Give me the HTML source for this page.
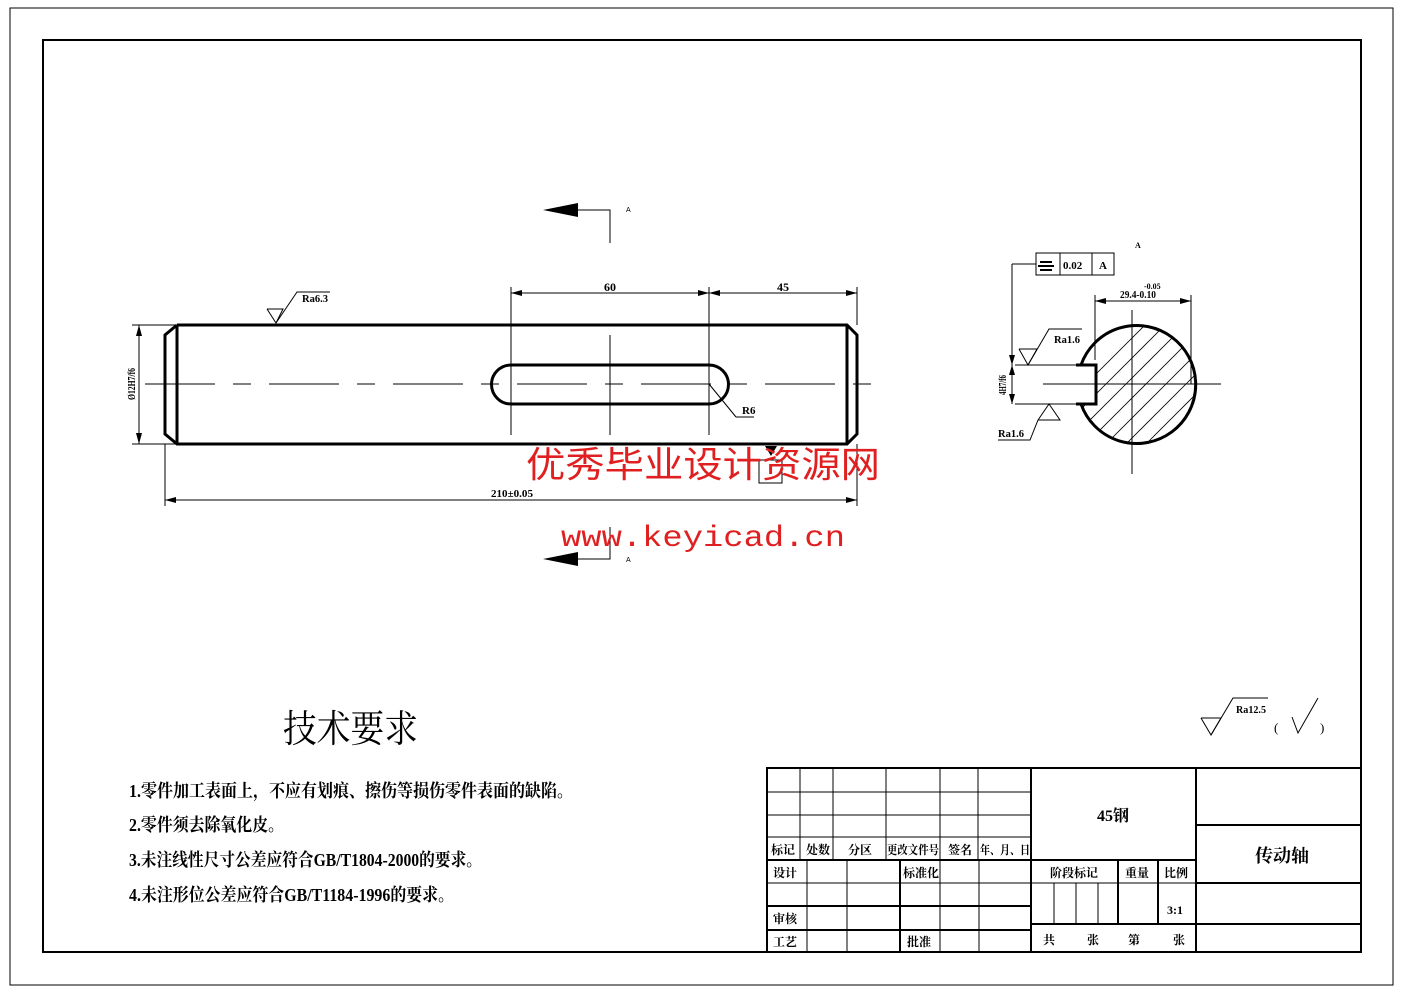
<!DOCTYPE html>
<html><head><meta charset="utf-8"><style>html,body{margin:0;padding:0;background:#fff}svg{display:block}</style></head>
<body>
<svg width="1403" height="992" viewBox="0 0 1403 992" xmlns="http://www.w3.org/2000/svg" font-family="'Liberation Sans','Noto Sans CJK SC',sans-serif">
<rect width="1403" height="992" fill="#fff"/>
<rect x="10" y="8" width="1383" height="977" fill="none" stroke="#000" stroke-width="1"/>
<rect x="43" y="40" width="1318" height="912" fill="none" stroke="#000" stroke-width="2"/>

<polygon points="543,210 578,203 578,217" fill="#000"/>
<polyline points="578,210 610,210 610,243" fill="none" stroke="#000"/>
<text x="626" y="212" font-size="7">A</text>
<polygon points="543,559 578,552 578,566" fill="#000"/>
<polyline points="578,559 610,559 610,527" fill="none" stroke="#000"/>
<text x="626" y="562" font-size="7">A</text>

<g stroke="#000" fill="none">
<polyline points="177,325 847,325 857,335 857,434 847,444 177,444 165,434 165,335 177,325" stroke-width="3"/>
<line x1="177" y1="325" x2="177" y2="444" stroke-width="3"/>
<line x1="847" y1="325" x2="847" y2="444" stroke-width="3"/>
<path d="M511,365 L709,365 A19.5,19.5 0 0 1 709,404 L511,404 A19.5,19.5 0 0 1 511,365 Z" stroke-width="3"/>
<line x1="145" y1="384" x2="877" y2="384" stroke-width="1" stroke-dasharray="70,18,18,18"/>
<line x1="132" y1="325" x2="175" y2="325"/>
<line x1="132" y1="444" x2="175" y2="444"/>
<line x1="139" y1="325" x2="139" y2="444"/>
<line x1="165" y1="444" x2="165" y2="506"/>
<line x1="857" y1="444" x2="857" y2="506"/>
<line x1="165" y1="500" x2="857" y2="500"/>
<line x1="511" y1="287" x2="511" y2="435"/>
<line x1="709" y1="287" x2="709" y2="435"/>
<line x1="610" y1="335" x2="610" y2="435"/>
<line x1="857" y1="287" x2="857" y2="325"/>
<line x1="511" y1="293" x2="709" y2="293"/>
<line x1="709" y1="293" x2="857" y2="293"/>
<line x1="709" y1="384" x2="736" y2="417"/><line x1="736" y1="417" x2="754" y2="417"/>
<polyline points="267,309 283,309 276,323 267,309"/>
<polyline points="276,323 297,292 330,292"/>
<rect x="759" y="460" width="23" height="23"/>
</g>
<g fill="#000">
<polygon points="139,325 136,336 142,336"/><polygon points="139,444 136,433 142,433"/>
<polygon points="165,500 176,497 176,503"/><polygon points="857,500 846,497 846,503"/>
<polygon points="511,293 522,290 522,296"/><polygon points="709,293 698,290 698,296"/>
<polygon points="709,293 720,290 720,296"/><polygon points="857,293 846,290 846,296"/>
<polygon points="765,446 777,446 771,456"/>
</g>
<g font-weight="bold" font-family="'Liberation Serif','Noto Serif CJK SC',serif">
<text x="302" y="302" font-size="11" textLength="26" lengthAdjust="spacingAndGlyphs">Ra6.3</text>
<text x="604" y="291" font-size="12">60</text>
<text x="777" y="291" font-size="12">45</text>
<text x="742" y="414" font-size="11">R6</text>
<text x="491" y="497" font-size="10" textLength="42" lengthAdjust="spacingAndGlyphs">210±0.05</text>
<text transform="translate(135,400) rotate(-90)" font-size="11" textLength="32" lengthAdjust="spacingAndGlyphs">Ø12H7/f6</text>
</g>

<defs><clipPath id="cc"><path d="M1081,365 A59,59 0 1 1 1081,404 L1096,404 L1096,365 Z"/></clipPath></defs>
<g clip-path="url(#cc)" stroke="#000" stroke-width="0.8">
<line x1="1060" y1="470" x2="1200" y2="330"/><line x1="1060" y1="450" x2="1200" y2="310"/>
<line x1="1060" y1="430" x2="1200" y2="290"/><line x1="1060" y1="410" x2="1200" y2="270"/>
<line x1="1060" y1="490" x2="1220" y2="330"/><line x1="1060" y1="510" x2="1240" y2="330"/>
<line x1="1080" y1="510" x2="1260" y2="330"/><line x1="1100" y1="510" x2="1280" y2="330"/>
</g>
<g stroke="#000" fill="none">
<path d="M1081,365 A59,59 0 1 1 1081,404" stroke-width="3"/>
<polyline points="1076,365 1096,365 1096,404 1076,404" stroke-width="3"/>
<line x1="1015" y1="365" x2="1081" y2="365"/><line x1="1015" y1="404" x2="1081" y2="404"/>
<line x1="1043" y1="384" x2="1221" y2="384"/>
<line x1="1132" y1="310" x2="1132" y2="474"/>
<line x1="1095" y1="295" x2="1095" y2="360"/><line x1="1191" y1="295" x2="1191" y2="384"/>
<line x1="1095" y1="301" x2="1191" y2="301"/>
<line x1="1012" y1="264" x2="1012" y2="404"/>
<line x1="1012" y1="264" x2="1036" y2="264"/>
<rect x="1036" y="253" width="78" height="22"/>
<line x1="1060" y1="253" x2="1060" y2="275"/><line x1="1092" y1="253" x2="1092" y2="275"/>
<polyline points="1019,349 1037,349 1028,365 1019,349"/>
<polyline points="1028,365 1049,329 1082,329"/>
<polyline points="1038,420 1060,420 1049,404 1038,420"/>
<polyline points="1038,420 1030,440 998,440"/>
</g>
<g fill="#000">
<polygon points="1095,301 1106,298 1106,304"/><polygon points="1191,301 1180,298 1180,304"/>
<polygon points="1012,365 1009,355 1015,355"/><polygon points="1012,365 1009,375 1015,375"/>
<polygon points="1012,404 1009,394 1015,394"/>
<rect x="1040" y="261" width="12" height="2"/><rect x="1038" y="265" width="16" height="2"/><rect x="1040" y="269" width="12" height="2"/>
</g>
<g font-weight="bold" font-family="'Liberation Serif','Noto Serif CJK SC',serif">
<text x="1063" y="269" font-size="11">0.02</text>
<text x="1099" y="269" font-size="11">A</text>
<text x="1135" y="248" font-size="8">A</text>
<text x="1120" y="298" font-size="11" textLength="36" lengthAdjust="spacingAndGlyphs">29.4-0.10</text>
<text x="1144" y="289" font-size="8">-0.05</text>
<text x="1054" y="343" font-size="11" textLength="26" lengthAdjust="spacingAndGlyphs">Ra1.6</text>
<text x="998" y="437" font-size="11" textLength="26" lengthAdjust="spacingAndGlyphs">Ra1.6</text>
<text transform="translate(1006,395) rotate(-90)" font-size="10" textLength="20" lengthAdjust="spacingAndGlyphs">4H7/f6</text>
</g>

<text x="526" y="477" font-size="36" fill="#e02020" font-family="'Noto Sans CJK SC',sans-serif" textLength="354" lengthAdjust="spacingAndGlyphs">优秀毕业设计资源网</text>
<text x="561" y="546" font-size="30" fill="#e02020" font-family="'Liberation Mono',monospace" textLength="284" lengthAdjust="spacingAndGlyphs">www.keyicad.cn</text>

<g stroke="#000" fill="none">
<polyline points="1201,718 1221,718 1211,735 1201,718"/>
<polyline points="1211,735 1233,698 1268,698"/>
<polyline points="1292,717 1298,733 1318,698"/>
</g>
<text x="1236" y="713" font-size="10" font-weight="bold" font-family="'Liberation Serif',serif" textLength="30" lengthAdjust="spacingAndGlyphs">Ra12.5</text>
<text x="1274" y="732" font-size="13" font-family="'Liberation Serif',serif">(</text>
<text x="1320" y="732" font-size="13" font-family="'Liberation Serif',serif">)</text>

<g font-family="'Liberation Serif','Noto Serif CJK SC',serif">
<text x="283" y="742" font-size="38" textLength="135" lengthAdjust="spacingAndGlyphs">技术要求</text>
<g font-size="18" font-weight="bold">
<text x="129" y="797" textLength="444" lengthAdjust="spacingAndGlyphs">1.零件加工表面上，不应有划痕、擦伤等损伤零件表面的缺陷。</text>
<text x="129" y="831" textLength="155" lengthAdjust="spacingAndGlyphs">2.零件须去除氧化皮。</text>
<text x="129" y="866" textLength="353" lengthAdjust="spacingAndGlyphs">3.未注线性尺寸公差应符合GB/T1804-2000的要求。</text>
<text x="129" y="901" textLength="325" lengthAdjust="spacingAndGlyphs">4.未注形位公差应符合GB/T1184-1996的要求。</text>
</g></g>

<g stroke="#000" fill="none">
<rect x="767" y="768" width="594" height="184" stroke-width="2"/>
<line x1="767" y1="792" x2="1031" y2="792"/><line x1="767" y1="815" x2="1031" y2="815"/>
<line x1="767" y1="837" x2="1031" y2="837"/>
<line x1="767" y1="860" x2="1196" y2="860" stroke-width="2"/>
<line x1="767" y1="883" x2="1031" y2="883"/>
<line x1="767" y1="906" x2="1031" y2="906" stroke-width="2"/>
<line x1="767" y1="930" x2="1031" y2="930" stroke-width="2"/>
<line x1="800" y1="768" x2="800" y2="860"/><line x1="833" y1="768" x2="833" y2="860"/>
<line x1="886" y1="768" x2="886" y2="860"/><line x1="940" y1="768" x2="940" y2="860"/>
<line x1="978" y1="768" x2="978" y2="860"/>
<line x1="807" y1="860" x2="807" y2="952"/><line x1="847" y1="860" x2="847" y2="952"/>
<line x1="900" y1="860" x2="900" y2="952" stroke-width="2"/>
<line x1="940" y1="860" x2="940" y2="952"/><line x1="979" y1="860" x2="979" y2="952"/>
<line x1="1031" y1="768" x2="1031" y2="952" stroke-width="2"/>
<line x1="1196" y1="768" x2="1196" y2="952" stroke-width="2"/>
<line x1="1031" y1="883" x2="1196" y2="883"/>
<line x1="1031" y1="924" x2="1361" y2="924" stroke-width="2"/>
<line x1="1118" y1="860" x2="1118" y2="924" stroke-width="2"/>
<line x1="1158" y1="860" x2="1158" y2="924" stroke-width="2"/>
<line x1="1054" y1="883" x2="1054" y2="924"/><line x1="1076" y1="883" x2="1076" y2="924"/>
<line x1="1098" y1="883" x2="1098" y2="924"/>
<line x1="1196" y1="825" x2="1361" y2="825" stroke-width="2"/>
<line x1="1196" y1="883" x2="1361" y2="883" stroke-width="2"/>
</g>
<g font-family="'Liberation Serif','Noto Serif CJK SC',serif" font-weight="bold" font-size="12">
<text x="771" y="854">标记</text><text x="806" y="854">处数</text><text x="848" y="854">分区</text>
<text x="887" y="854" textLength="52" lengthAdjust="spacingAndGlyphs">更改文件号</text>
<text x="948" y="854">签名</text><text x="980" y="854" textLength="50" lengthAdjust="spacingAndGlyphs">年、月、日</text>
<text x="773" y="877">设计</text><text x="903" y="877">标准化</text>
<text x="773" y="923">审核</text><text x="773" y="946">工艺</text><text x="907" y="946">批准</text>
<text x="1050" y="877">阶段标记</text><text x="1125" y="877">重量</text><text x="1164" y="877">比例</text>
<text x="1167" y="914">3:1</text>
<text x="1043" y="944">共</text><text x="1087" y="944">张</text><text x="1128" y="944">第</text><text x="1173" y="944">张</text>
<text x="1097" y="821" font-size="16">45钢</text>
<text x="1255" y="862" font-size="18">传动轴</text>
</g>
</svg>
</body></html>
